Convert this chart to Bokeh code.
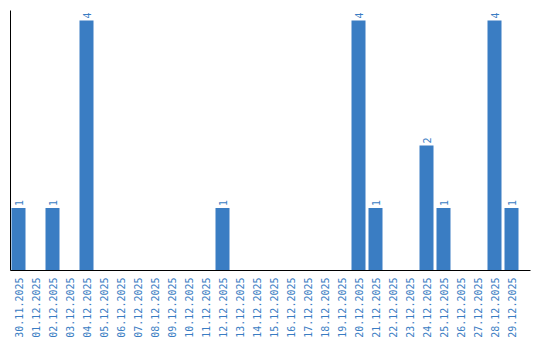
import math
from bokeh.plotting import figure
from bokeh.models import ColumnDataSource, Range1d, FixedTicker
from bokeh.core.properties import value
from bokeh.embed import file_html
from bokeh.resources import INLINE

dates = ["30.11.2025", "01.12.2025", "02.12.2025", "03.12.2025", "04.12.2025",
         "05.12.2025", "06.12.2025", "07.12.2025", "08.12.2025", "09.12.2025",
         "10.12.2025", "11.12.2025", "12.12.2025", "13.12.2025", "14.12.2025",
         "15.12.2025", "16.12.2025", "17.12.2025", "18.12.2025", "19.12.2025",
         "20.12.2025", "21.12.2025", "22.12.2025", "23.12.2025", "24.12.2025",
         "25.12.2025", "26.12.2025", "27.12.2025", "28.12.2025", "29.12.2025"]
counts = [1, 0, 1, 0, 4, 0, 0, 0, 0, 0, 0, 0, 1, 0, 0, 0, 0, 0, 0, 0,
          4, 1, 0, 0, 2, 1, 0, 0, 4, 1]

BLUE = "#3a7dc3"
idx = list(range(len(dates)))
src = ColumnDataSource(dict(x=idx, top=counts))
lab = ColumnDataSource(dict(
    x=[i for i, c in zip(idx, counts) if c > 0],
    y=[c for c in counts if c > 0],
    t=[str(c) for c in counts if c > 0],
))

p = figure(width=540, height=340, output_backend="svg", toolbar_location=None,
           x_range=Range1d(-8 / 17, -8 / 17 + 520 / 17), y_range=Range1d(0, 4.16),
           min_border_left=10, min_border_right=10, min_border_top=10,
           min_border_bottom=10)
p.outline_line_color = None
p.grid.visible = False
p.background_fill_color = "white"

p.vbar(x="x", top="top", width=14 / 17, source=src, color=BLUE, line_color=None)
p.text(x="x", y="y", text="t", source=lab, angle=math.pi / 2, y_offset=-2,
       text_align="left", text_baseline="middle", text_color=BLUE,
       text_font=value("DejaVu Sans Mono"), text_font_size="10px")

xa = p.xaxis[0]
xa.ticker = FixedTicker(ticks=idx)
xa.major_label_overrides = {i: d for i, d in zip(idx, dates)}
xa.major_label_orientation = math.pi / 2
xa.major_label_text_color = BLUE
xa.major_label_text_font = "DejaVu Sans Mono"
xa.major_label_text_font_size = "10px"
xa.major_tick_line_color = None
xa.major_tick_out = 0
xa.major_tick_in = 0
xa.minor_tick_line_color = None
xa.minor_tick_out = 0
xa.major_label_standoff = 7
xa.axis_line_color = "black"

ya = p.yaxis[0]
ya.ticker = FixedTicker(ticks=[])
ya.major_tick_line_color = None
ya.minor_tick_line_color = None
ya.major_tick_out = 0
ya.minor_tick_out = 0
ya.major_label_standoff = 0
ya.axis_line_color = "black"

open("out.html", "w").write(file_html(p, INLINE))
